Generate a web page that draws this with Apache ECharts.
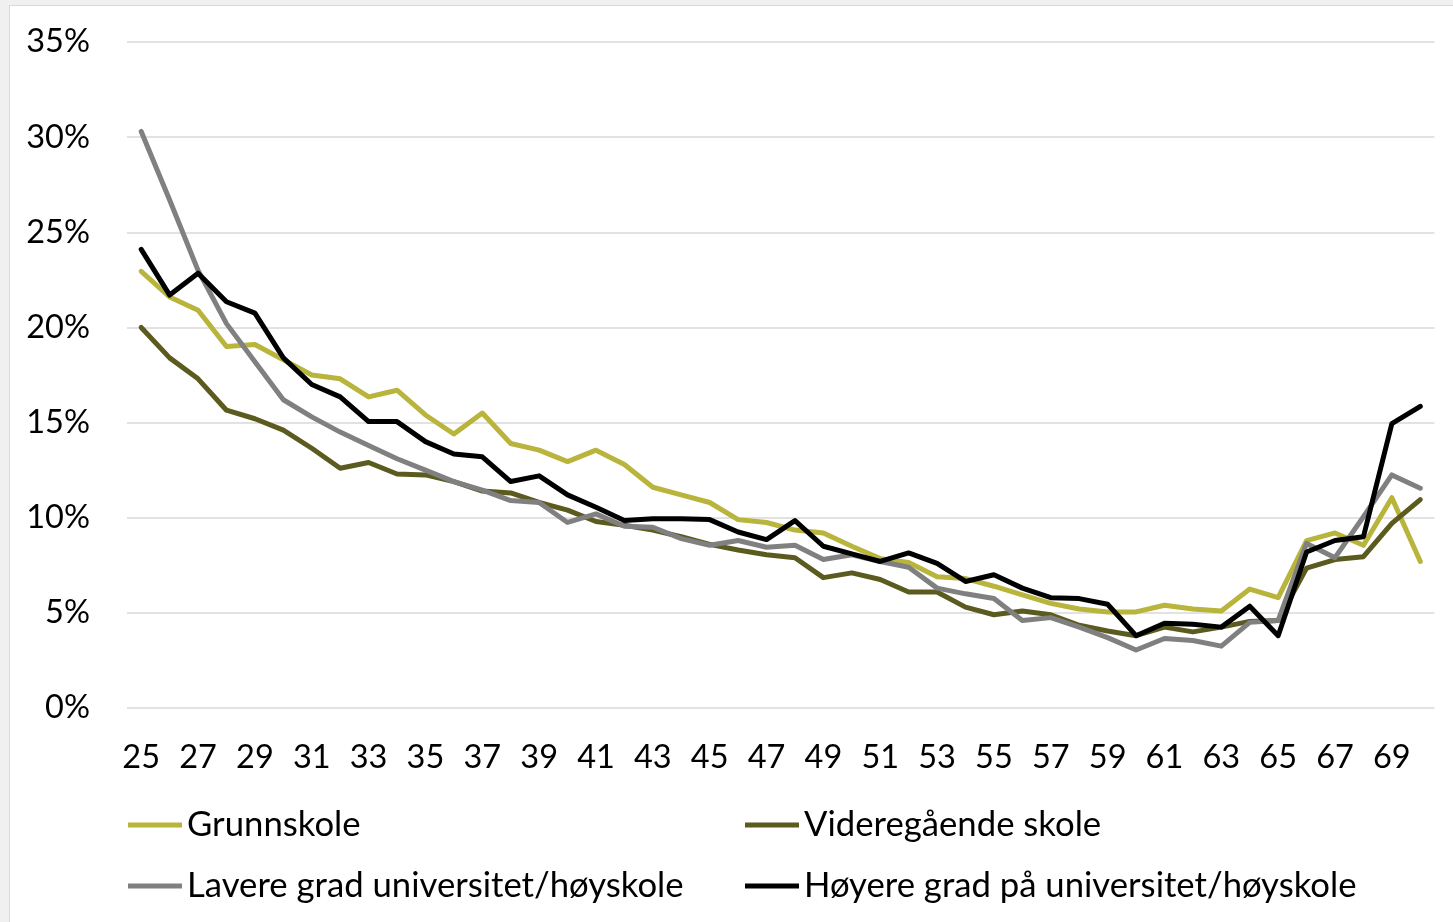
<!DOCTYPE html>
<html>
<head>
<meta charset="utf-8">
<script src="https://cdn.jsdelivr.net/npm/echarts@6/dist/echarts.min.js"></script>
<style>
  html, body { margin: 0; padding: 0; background: #f0f0f0; width: 1453px; height: 922px; overflow: hidden; }
  #frame { position: absolute; left: 9px; top: 5px; width: 1450px; height: 930px; background: #ffffff; border-left: 1px solid #d9d9d9; border-top: 1px solid #d9d9d9; }
  #chart { position: absolute; left: 0; top: 0; width: 1453px; height: 922px; }
</style>
</head>
<body>
<div id="frame"></div>
<div id="chart"></div>
<script>
const ages = ['25','26','27','28','29','30','31','32','33','34','35','36','37','38','39','40','41','42','43','44','45','46','47','48','49','50','51','52','53','54','55','56','57','58','59','60','61','62','63','64','65','66','67','68','69','70'];

const seriesNames = ['Grunnskole', 'Videregående skole', 'Lavere grad universitet/høyskole', 'Høyere grad på universitet/høyskole'];

const grunnskole = [22.95, 21.6, 20.9, 19.0, 19.1, 18.3, 17.5, 17.3, 16.35, 16.7, 15.4, 14.4, 15.5, 13.9, 13.55, 12.95, 13.55, 12.8, 11.6, 11.2, 10.8, 9.9, 9.75, 9.35, 9.2, 8.5, 7.85, 7.65, 6.9, 6.8, 6.4, 5.95, 5.5, 5.2, 5.05, 5.05, 5.4, 5.2, 5.1, 6.25, 5.8, 8.8, 9.2, 8.55, 11.05, 7.7];

const videregaende = [20.0, 18.4, 17.3, 15.65, 15.2, 14.6, 13.65, 12.6, 12.9, 12.3, 12.25, 11.9, 11.4, 11.3, 10.8, 10.4, 9.8, 9.6, 9.35, 9.0, 8.6, 8.3, 8.05, 7.9, 6.85, 7.1, 6.75, 6.1, 6.1, 5.3, 4.9, 5.1, 4.9, 4.35, 4.05, 3.8, 4.25, 4.0, 4.25, 4.55, 4.6, 7.35, 7.8, 7.95, 9.7, 10.95];

const lavere = [30.3, 26.7, 23.0, 20.2, 18.2, 16.2, 15.3, 14.5, 13.8, 13.1, 12.5, 11.9, 11.45, 10.9, 10.8, 9.75, 10.2, 9.55, 9.5, 8.9, 8.55, 8.8, 8.45, 8.55, 7.8, 8.05, 7.7, 7.4, 6.3, 6.0, 5.75, 4.6, 4.75, 4.25, 3.7, 3.05, 3.65, 3.55, 3.25, 4.5, 4.6, 8.65, 7.9, 10.05, 12.25, 11.55];

const hoyere = [24.1, 21.7, 22.85, 21.35, 20.75, 18.4, 17.0, 16.35, 15.05, 15.05, 14.0, 13.35, 13.2, 11.9, 12.2, 11.2, 10.55, 9.85, 9.95, 9.95, 9.9, 9.25, 8.85, 9.85, 8.5, 8.1, 7.7, 8.15, 7.6, 6.65, 7.0, 6.3, 5.8, 5.75, 5.45, 3.8, 4.45, 4.4, 4.25, 5.35, 3.8, 8.2, 8.8, 9.0, 14.95, 15.85];

const yTicks = { min: 0, max: 35, interval: 5 };

const colors = ['#b8b43c', '#5b5a1f', '#808080', '#000000'];
const allData = [grunnskole, videregaende, lavere, hoyere];

const FONT = 'Lato, "Open Sans", sans-serif';

const legendPos = [
  { left: 128, top: 805 },
  { left: 745, top: 805 },
  { left: 128, top: 866 },
  { left: 745, top: 866 }
];

const chart = echarts.init(document.getElementById('chart'), null, { renderer: 'canvas' });

const option = {
  animation: false,
  backgroundColor: 'transparent',
  color: colors,
  grid: { left: 127, right: 18.5, top: 42, bottom: 214, containLabel: false },
  legend: seriesNames.map((n, i) => ({
    data: [n],
    left: legendPos[i].left,
    top: legendPos[i].top,
    icon: 'rect',
    itemWidth: 54,
    itemHeight: 5,
    padding: 0,
    textStyle: { fontFamily: FONT, fontSize: 34.7, color: '#000', lineHeight: 40 }
  })),
  xAxis: {
    type: 'category',
    data: ages,
    boundaryGap: true,
    axisLine: { show: false },
    axisTick: { show: false },
    axisLabel: { interval: 1, margin: 33, fontFamily: FONT, fontSize: 32.5, color: '#000' }
  },
  yAxis: {
    type: 'value',
    min: yTicks.min,
    max: yTicks.max,
    interval: yTicks.interval,
    axisLine: { show: false },
    axisTick: { show: false },
    splitLine: { lineStyle: { color: '#d9d9d9', width: 1.5 } },
    axisLabel: { margin: 37, fontFamily: FONT, fontSize: 32.5, color: '#000', formatter: '{value}%' }
  },
  series: seriesNames.map((n, i) => ({
    name: n,
    type: 'line',
    data: allData[i],
    symbol: 'none',
    smooth: false,
    lineStyle: { width: 5, color: colors[i], join: 'round', cap: 'round' },
    itemStyle: { color: colors[i] },
    z: 2 + i
  }))
};

chart.setOption(option);
</script>
</body>
</html>
